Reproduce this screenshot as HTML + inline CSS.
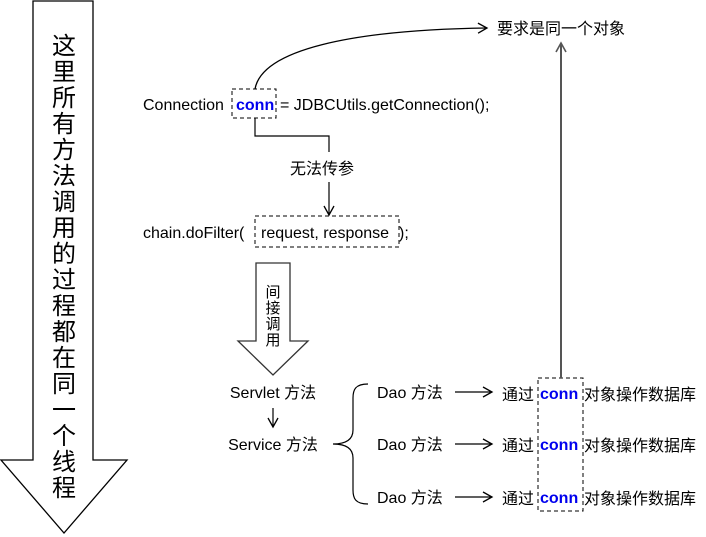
<!DOCTYPE html>
<html><head><meta charset="utf-8"><style>
html,body{margin:0;padding:0;background:#fff;}
svg{display:block;}
text{font-family:"Liberation Sans","Noto Sans CJK SC",sans-serif;font-size:16px;fill:#000;}
.c{fill:#0000ee;font-weight:bold;}
</style></head><body>
<svg width="706" height="537" viewBox="0 0 706 537" xmlns="http://www.w3.org/2000/svg">
<defs>
<marker id="a" markerWidth="12" markerHeight="12" refX="10" refY="6" orient="auto" markerUnits="userSpaceOnUse">
<path d="M1,1 L10,6 L1,11" fill="none" stroke="#000" stroke-width="1.3"/>
</marker>
<marker id="g" markerWidth="12" markerHeight="12" refX="10" refY="6" orient="auto" markerUnits="userSpaceOnUse">
<path d="M1,1 L10,6 L1,11" fill="none" stroke="#555" stroke-width="1.6"/>
</marker>
</defs>
<!-- big arrow -->
<path d="M33,1 L93,1 L93,460 L127,460 L64,533 L1,460 L33,460 Z" fill="#fff" stroke="#000" stroke-width="1.3"/>
<g text-anchor="middle" font-size="24">
<text x="64" y="54" style="font-size:24px">这</text>
<text x="64" y="80" style="font-size:24px">里</text>
<text x="64" y="106" style="font-size:24px">所</text>
<text x="64" y="132" style="font-size:24px">有</text>
<text x="64" y="158" style="font-size:24px">方</text>
<text x="64" y="184" style="font-size:24px">法</text>
<text x="64" y="210" style="font-size:24px">调</text>
<text x="64" y="236" style="font-size:24px">用</text>
<text x="64" y="262" style="font-size:24px">的</text>
<text x="64" y="288" style="font-size:24px">过</text>
<text x="64" y="314" style="font-size:24px">程</text>
<text x="64" y="340" style="font-size:24px">都</text>
<text x="64" y="366" style="font-size:24px">在</text>
<text x="64" y="392" style="font-size:24px">同</text>
<text x="64" y="418" style="font-size:24px">一</text>
<text x="64" y="444" style="font-size:24px">个</text>
<text x="64" y="470" style="font-size:24px">线</text>
<text x="64" y="496" style="font-size:24px">程</text>
<text x="64" y="482" style="font-size:24px" opacity="0"></text>
</g>
<text x="64" y="481" text-anchor="middle" style="font-size:24px" opacity="0"></text>

<!-- top code -->
<text x="143" y="110">Connection</text>
<text x="236" y="110" class="c">conn</text>
<text x="280" y="110">= JDBCUtils.getConnection();</text>
<rect x="232" y="89" width="44" height="29" fill="none" stroke="#000" stroke-dasharray="4,3"/>
<path d="M255,89 C262,50 350,30 487,28" fill="none" stroke="#000" stroke-width="1.3" marker-end="url(#a)"/>
<text x="497" y="34">要求是同一个对象</text>
<path d="M255,118 L255,136 L329,136 L329,152" fill="none" stroke="#000" stroke-width="1.2"/>
<text x="322" y="174" text-anchor="middle">无法传参</text>
<line x1="329" y1="182" x2="329" y2="215" stroke="#000" stroke-width="1.2" marker-end="url(#a)"/>
<text x="143" y="238">chain.doFilter(</text>
<text x="261" y="238">request, response</text>
<text x="399" y="238">);</text>
<rect x="255" y="216" width="144" height="31" fill="none" stroke="#000" stroke-dasharray="4,3"/>

<!-- small arrow -->
<path d="M256,263 L290,263 L290,341 L308,341 L273,375 L238,341 L256,341 Z" fill="#fff" stroke="#333" stroke-width="1.3"/>
<g text-anchor="middle">
<text x="273" y="297" style="font-size:15px">间</text>
<text x="273" y="313" style="font-size:15px">接</text>
<text x="273" y="329" style="font-size:15px">调</text>
<text x="273" y="345" style="font-size:15px">用</text>
</g>

<text x="273" y="398" text-anchor="middle">Servlet 方法</text>
<line x1="273" y1="408" x2="273" y2="427" stroke="#000" stroke-width="1.2" marker-end="url(#a)"/>
<text x="273" y="450" text-anchor="middle">Service 方法</text>
<path d="M368,384 C355,384 353,390 353,398 L353,430 C353,438 348,444 333,444 C348,444 353,450 353,458 L353,490 C353,498 355,504 368,504" fill="none" stroke="#000" stroke-width="1.2"/>

<g>
<text x="377" y="398">Dao 方法</text>
<text x="377" y="450">Dao 方法</text>
<text x="377" y="503">Dao 方法</text>
<line x1="455" y1="392" x2="492" y2="392" stroke="#000" stroke-width="1.2" marker-end="url(#a)"/>
<line x1="455" y1="444" x2="492" y2="444" stroke="#000" stroke-width="1.2" marker-end="url(#a)"/>
<line x1="455" y1="497" x2="492" y2="497" stroke="#000" stroke-width="1.2" marker-end="url(#a)"/>
<text x="502" y="400">通过</text>
<text x="502" y="451">通过</text>
<text x="502" y="504">通过</text>
<text x="540" y="399" class="c">conn</text>
<text x="540" y="450" class="c">conn</text>
<text x="540" y="503" class="c">conn</text>
<text x="584" y="400">对象操作数据库</text>
<text x="584" y="451">对象操作数据库</text>
<text x="584" y="504">对象操作数据库</text>
</g>
<rect x="538" y="378" width="45" height="133" fill="none" stroke="#000" stroke-dasharray="4,3"/>
<line x1="561" y1="378" x2="561" y2="43" stroke="#555" stroke-width="2" marker-end="url(#g)"/>
</svg>
</body></html>
